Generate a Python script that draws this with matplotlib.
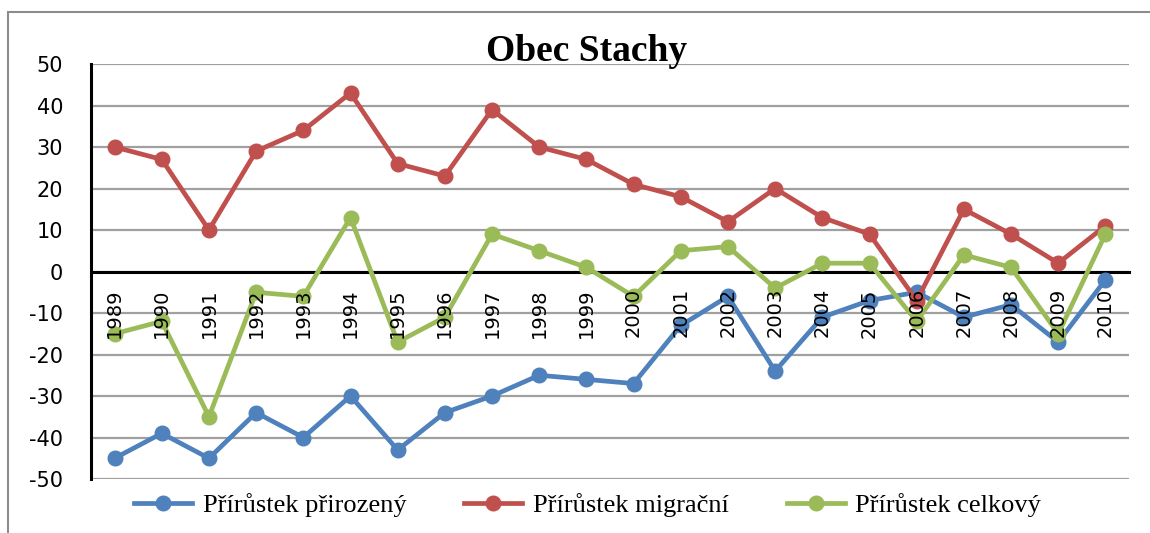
import numpy as np
import matplotlib
matplotlib.use('Agg')
import matplotlib.pyplot as plt
from matplotlib.patches import Rectangle

# data
years = [str(y) for y in range(1989, 2011)]
prirozeny = [-45, -39, -45, -34, -40, -30, -43, -34, -30, -25, -26, -27,
             -13, -6, -24, -11, -7, -5, -11, -8, -17, -2]
migracni = [30, 27, 10, 29, 34, 43, 26, 23, 39, 30, 27, 21,
            18, 12, 20, 13, 9, -7, 15, 9, 2, 11]
celkovy = [-15, -12, -35, -5, -6, 13, -17, -11, 9, 5, 1, -6,
           5, 6, -4, 2, 2, -12, 4, 1, -15, 9]
series_names = ['Přírůstek přirozený', 'Přírůstek migrační', 'Přírůstek celkový']
colors = ['#4F81BD', '#C0504D', '#9BBB59']
yticks = list(range(-50, 51, 10))

plt.rcParams['axes.unicode_minus'] = False

fig = plt.figure(figsize=(11.5, 5.33), dpi=100)
ax = fig.add_axes([91/1150, 1 - 479/533, (1129 - 91)/1150, (479 - 64)/533])

x = np.arange(len(years))
for vals, name, col in zip([prirozeny, migracni, celkovy], series_names, colors):
    ax.plot(x, vals, color=col, lw=3.4, marker='o', ms=10.5, label=name, zorder=3)

ax.set_xlim(-0.5, len(years) - 0.5)
ax.set_ylim(-50, 50)
ax.set_yticks(yticks)
ax.yaxis.grid(True, color='#a0a0a0', lw=1.6)
ax.set_axisbelow(True)

ax.spines['top'].set_visible(False)
ax.spines['right'].set_visible(False)
ax.spines['left'].set_linewidth(2.2)
ax.spines['bottom'].set_position(('data', 0))
ax.spines['bottom'].set_linewidth(2.2)
ax.spines['bottom'].set_zorder(2)

ax.set_xticks(x)
ax.set_xticklabels(years, rotation=90, va='top', ha='center')
ax.tick_params(axis='x', length=0, pad=12, labelsize=14)
ax.tick_params(axis='y', length=0, pad=20, labelsize=15)
# year labels sit on top of the lines, as in the original
ax.xaxis.set_zorder(5)

fig.text(0.51, 0.903, 'Obec Stachy', ha='center', va='center',
         family='Liberation Serif', weight='bold', fontsize=27)

leg = fig.legend(loc='center', bbox_to_anchor=(0.511, 1 - 505/533), ncol=3,
                 frameon=False, prop={'family': 'Liberation Serif', 'size': 19},
                 handlelength=2.2, columnspacing=2.2, handletextpad=0.4)

fig.add_artist(Rectangle((8/1150, -0.1), 1.2, 1 - 12/533 + 0.1,
                         transform=fig.transFigure, fill=False,
                         edgecolor='#8c8c8c', lw=1.5))

fig.savefig('out.png', dpi=100)
